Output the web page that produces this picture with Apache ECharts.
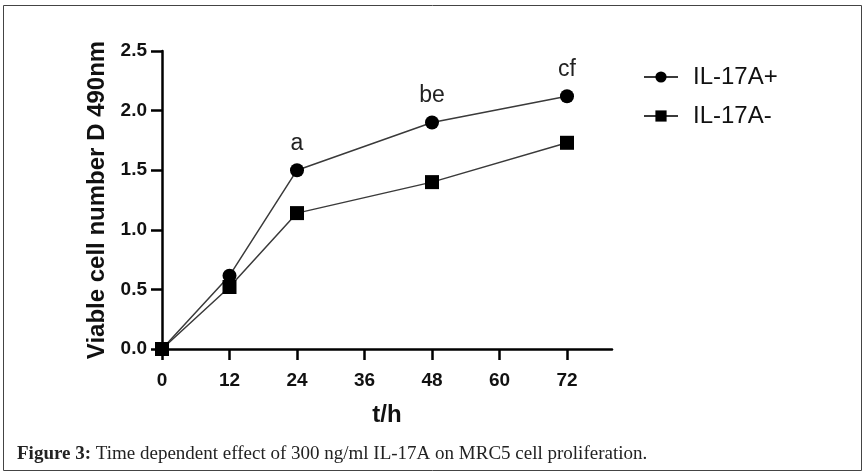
<!DOCTYPE html>
<html><head><meta charset="utf-8">
<script src="https://cdn.jsdelivr.net/npm/echarts@6/dist/echarts.min.js"></script>
<style>html,body{margin:0;padding:0;background:#fff}#c{width:865px;height:476px}</style>
</head><body><div id="c"></div>
<script>
const hours = [0, 12, 24, 48, 72];
const ilPlus = [0, 0.615, 1.50, 1.90, 2.12];
const ilMinus = [0, 0.52, 1.14, 1.40, 1.73];
const sigLabels = ['', '', 'a', 'be', 'cf'];
const xTicks = [0, 12, 24, 36, 48, 60, 72];
const yTicks = [0, 0.5, 1.0, 1.5, 2.0, 2.5];
const seriesNames = ['IL-17A+', 'IL-17A-'];
const caption = 'Time dependent effect of 300 ng/ml IL-17A on MRC5 cell proliferation.';

const chart = echarts.init(document.getElementById('c'));
const font = 'Liberation Sans, Arial, sans-serif';
chart.setOption({
  animation: false,
  backgroundColor: '#fff',
  textStyle: { fontFamily: font },
  title: {
    text: '{b|Figure 3:} ' + caption,
    left: 12, top: 440,
    textStyle: { fontFamily: 'Liberation Serif, serif', fontSize: 19, fontWeight: 'normal', color: '#222',
      rich: { b: { fontFamily: 'Liberation Serif, serif', fontSize: 19, fontWeight: 'bold', color: '#222' } } }
  },
  graphic: [{ type: 'rect', shape: { x: 3.5, y: 5.5, width: 858, height: 465 }, style: { fill: 'none', stroke: '#444', lineWidth: 1 }, silent: true }],
  legend: {
    left: 638, top: 60, orient: 'vertical', itemGap: 15, itemWidth: 34, itemHeight: 14,
    textStyle: { fontSize: 24, color: '#111', fontFamily: font, padding: [0, 0, 0, 10] },
    data: seriesNames
  },
  grid: { left: 162, right: 253, top: 51, bottom: 127 },
  xAxis: {
    type: 'value', min: 0, max: 80, interval: 12,
    name: 't/h', nameLocation: 'middle', nameGap: 54,
    nameTextStyle: { fontSize: 24, fontWeight: 'bold', color: '#111' },
    axisLine: { lineStyle: { color: '#000', width: 2.5 } },
    axisTick: { length: 11, lineStyle: { color: '#000', width: 2.5 }, customValues: xTicks },
    axisLabel: { fontSize: 19, fontWeight: 'bold', color: '#111', margin: 22, customValues: xTicks },
    splitLine: { show: false }
  },
  yAxis: {
    type: 'value', min: 0, max: 2.5, interval: 0.5,
    name: 'Viable cell number D 490nm', nameLocation: 'middle', nameGap: 53, nameRotate: 90,
    nameTextStyle: { fontSize: 24, fontWeight: 'bold', color: '#111' },
    axisLine: { lineStyle: { color: '#000', width: 2.5 } },
    axisTick: { length: 11, lineStyle: { color: '#000', width: 2.5 }, customValues: yTicks },
    axisLabel: { fontSize: 19, fontWeight: 'bold', color: '#111', margin: 15, customValues: yTicks, formatter: v => v.toFixed(1) },
    splitLine: { show: false }
  },
  series: [
    { name: seriesNames[0], type: 'line', data: hours.map((h, i) => [h, ilPlus[i]]),
      symbol: 'circle', symbolSize: 14,
      itemStyle: { color: '#000' }, lineStyle: { color: '#3a3a3a', width: 1.5 },
      label: { show: true, position: 'top', distance: 8, fontSize: 23, color: '#222',
        formatter: p => sigLabels[p.dataIndex] }, z: 3 },
    { name: seriesNames[1], type: 'line', data: hours.map((h, i) => [h, ilMinus[i]]),
      symbol: 'rect', symbolSize: 14,
      itemStyle: { color: '#000' }, lineStyle: { color: '#3a3a3a', width: 1.5 } }
  ]
});
</script></body></html>
